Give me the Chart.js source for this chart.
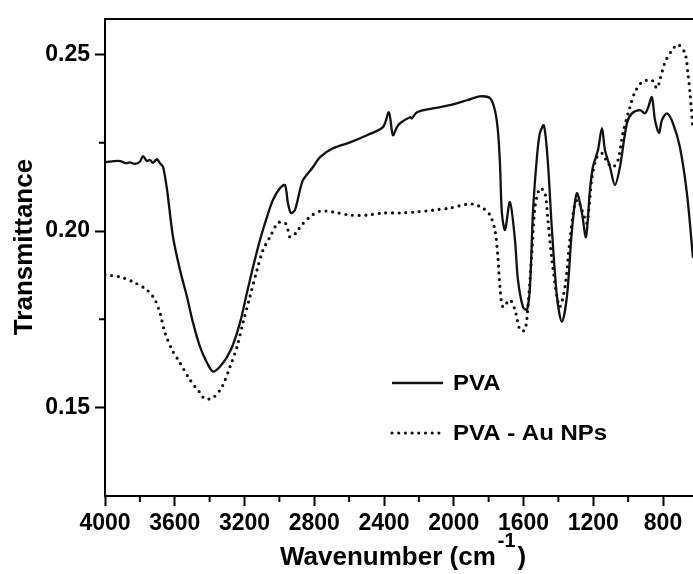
<!DOCTYPE html>
<html>
<head>
<meta charset="utf-8">
<script src="https://cdn.jsdelivr.net/npm/chart.js@4"></script>
<style>
  body { margin: 0; background: #fff; }
  #wrap { width: 693px; height: 574px; }
</style>
</head>
<body>
<div id="wrap"><canvas id="ftir" width="693" height="574"></canvas></div>
<script>
// ============================================
// DATA
// ============================================

const pvaWavenumber = [4000, 3960, 3914, 3880, 3857, 3830, 3800, 3782, 3760, 3742, 3725, 3702, 3685, 3667, 3644,
    3610, 3570, 3530, 3495, 3455, 3415, 3381, 3341, 3300, 3266, 3226, 3186, 3151, 3111, 3071, 3037, 2997, 2968,
    2951, 2934, 2911, 2882, 2865, 2807, 2767, 2693, 2595, 2498, 2406, 2372, 2349, 2326, 2308, 2251, 2240, 2211,
    2119, 2022, 1924, 1850, 1792, 1764, 1747, 1735, 1724, 1706, 1678, 1649, 1632, 1603, 1580, 1563, 1546, 1523,
    1506, 1483, 1460, 1437, 1408, 1380, 1351, 1322, 1294, 1265, 1242, 1219, 1202, 1173, 1150, 1133, 1104, 1076,
    1047, 1007, 978, 932, 904, 887, 864, 846, 823, 806, 777, 743, 703, 663, 628];
const pvaTransmittance = [0.2195, 0.2197, 0.2198, 0.2192, 0.2194, 0.2190, 0.2196, 0.2212, 0.2198, 0.2201, 0.2193,
    0.2203, 0.2192, 0.2181, 0.2116, 0.1983, 0.1890, 0.1814, 0.1740, 0.1672, 0.1627, 0.1602, 0.1616, 0.1644, 0.1678,
    0.1740, 0.1825, 0.1898, 0.1975, 0.2040, 0.2088, 0.2121, 0.2130, 0.2079, 0.2051, 0.2059, 0.2116, 0.2144, 0.2181,
    0.2209, 0.2234, 0.2251, 0.2271, 0.2294, 0.2336, 0.2271, 0.2294, 0.2305, 0.2322, 0.2319, 0.2336, 0.2347, 0.2356,
    0.2370, 0.2381, 0.2376, 0.2342, 0.2285, 0.2192, 0.2051, 0.2003, 0.2082, 0.1975, 0.1862, 0.1785, 0.1777, 0.1842,
    0.2051, 0.2209, 0.2277, 0.2299, 0.2192, 0.2003, 0.1814, 0.1743, 0.1814, 0.2003, 0.2107, 0.2051, 0.1983, 0.2116,
    0.2181, 0.2229, 0.2291, 0.2229, 0.2181, 0.2130, 0.2181, 0.2305, 0.2333, 0.2342, 0.2333, 0.2347, 0.2379, 0.2314,
    0.2277, 0.2314, 0.2333, 0.2305, 0.2237, 0.2107, 0.1924];

const auWavenumber = [4000, 3914, 3839, 3759, 3713, 3685, 3656, 3616, 3570, 3513, 3455, 3427, 3381, 3329, 3283,
    3243, 3209, 3169, 3128, 3094, 3054, 3008, 2968, 2951, 2939, 2899, 2882, 2825, 2767, 2693, 2595, 2498, 2406,
    2308, 2211, 2119, 2022, 1924, 1890, 1833, 1792, 1764, 1747, 1735, 1718, 1678, 1649, 1620, 1592, 1575, 1552,
    1534, 1506, 1477, 1460, 1437, 1408, 1391, 1362, 1334, 1305, 1288, 1259, 1236, 1207, 1179, 1150, 1116, 1087,
    1058, 1030, 990, 961, 921, 864, 835, 818, 789, 749, 714, 674, 657, 645, 628];
const auTransmittance = [0.1876, 0.1870, 0.1856, 0.1833, 0.1805, 0.1768, 0.1712, 0.1664, 0.1627, 0.1579, 0.1542,
    0.1525, 0.1528, 0.1559, 0.1616, 0.1672, 0.1740, 0.1814, 0.1890, 0.1946, 0.1983, 0.2023, 0.2023, 0.2003, 0.1983,
    0.1997, 0.2011, 0.2040, 0.2056, 0.2054, 0.2045, 0.2045, 0.2051, 0.2051, 0.2054, 0.2059, 0.2065, 0.2076, 0.2076,
    0.2065, 0.2045, 0.2003, 0.1927, 0.1842, 0.1785, 0.1805, 0.1777, 0.1720, 0.1720, 0.1785, 0.1938, 0.2068, 0.2121,
    0.2107, 0.2031, 0.1918, 0.1814, 0.1785, 0.1842, 0.1975, 0.2079, 0.2088, 0.2051, 0.2023, 0.2153, 0.2209, 0.2220,
    0.2192, 0.2181, 0.2201, 0.2277, 0.2350, 0.2393, 0.2421, 0.2427, 0.2404, 0.2427, 0.2477, 0.2511, 0.2528, 0.2503,
    0.2446, 0.2390, 0.2285];

const seriesLabels = ['PVA', 'PVA - Au NPs'];

const xMajorTicks = [4000, 3600, 3200, 2800, 2400, 2000, 1600, 1200, 800];
const xMinorTicks = [3800, 3400, 3000, 2600, 2200, 1800, 1400, 1000];
const yMajorTicks = [0.15, 0.20, 0.25];
const yMinorTicks = [0.175, 0.225];

const FONT = "'Liberation Sans', Arial, sans-serif";

function toPoints(xs, ys) {
    return xs.map((x, i) => ({ x: x, y: ys[i] }));
}

// ============================================
// PLUGIN: frame, minor ticks, titles, legend
// ============================================

const decorPlugin = {
    id: 'decor',
    afterDraw(chart) {
        const ctx = chart.ctx;
        const area = chart.chartArea;
        const xs = chart.scales.x;
        const ys = chart.scales.y;

        ctx.save();
        ctx.strokeStyle = '#000';
        ctx.lineWidth = 2;

        // top frame line
        ctx.beginPath();
        ctx.moveTo(area.left, area.top);
        ctx.lineTo(area.right, area.top);
        ctx.stroke();

        // minor ticks
        ctx.beginPath();
        xMinorTicks.forEach(v => {
            const px = xs.getPixelForValue(v);
            ctx.moveTo(px, area.bottom);
            ctx.lineTo(px, area.bottom + 6);
        });
        yMinorTicks.forEach(v => {
            const py = ys.getPixelForValue(v);
            ctx.moveTo(area.left, py);
            ctx.lineTo(area.left - 6, py);
        });
        ctx.stroke();

        // axis titles
        ctx.fillStyle = '#000';
        ctx.font = 'bold 26px ' + FONT;
        ctx.textBaseline = 'alphabetic';

        ctx.save();
        ctx.translate(32, 247);
        ctx.rotate(-Math.PI / 2);
        ctx.textAlign = 'center';
        ctx.fillText('Transmittance', 0, 0);
        ctx.restore();

        const main = 'Wavenumber (cm';
        const sup = '-1';
        const close = ')';
        const tx0 = 280;
        const base = 565;
        ctx.textAlign = 'left';
        ctx.font = 'bold 26px ' + FONT;
        const wMain = ctx.measureText(main).width;
        ctx.fillText(main, tx0, base);
        ctx.font = 'bold 20px ' + FONT;
        const wSup = ctx.measureText(sup).width;
        ctx.fillText(sup, tx0 + wMain + 2, base - 18);
        ctx.font = 'bold 26px ' + FONT;
        ctx.fillText(close, tx0 + wMain + wSup + 4, base);

        // legend inside the plot
        const legendX = 392;
        const legendY = [383, 433];
        chart.data.datasets.forEach((ds, i) => {
            ctx.save();
            ctx.strokeStyle = ds.borderColor;
            ctx.lineWidth = ds.borderWidth;
            ctx.lineCap = ds.borderCapStyle || 'butt';
            ctx.setLineDash(ds.borderDash || []);
            ctx.beginPath();
            ctx.moveTo(legendX, legendY[i]);
            ctx.lineTo(legendX + 51, legendY[i]);
            ctx.stroke();
            ctx.restore();

            ctx.save();
            ctx.translate(legendX + 61, legendY[i] + 1);
            ctx.scale(1.09, 1);
            ctx.font = 'bold 22px ' + FONT;
            ctx.textBaseline = 'middle';
            ctx.textAlign = 'left';
            ctx.fillText(ds.label, 0, 0);
            ctx.restore();
        });

        ctx.restore();
    }
};

// ============================================
// CHART
// ============================================

const ctx = document.getElementById('ftir');

const ftirChart = new Chart(ctx, {
    type: 'line',
    data: {
        datasets: [{
            label: seriesLabels[0],
            data: toPoints(pvaWavenumber, pvaTransmittance),
            borderColor: '#111',
            borderWidth: 2.3,
            pointRadius: 0,
            tension: 0.3,
            fill: false
        }, {
            label: seriesLabels[1],
            data: toPoints(auWavenumber, auTransmittance),
            borderColor: '#111',
            borderWidth: 3.2,
            borderDash: [0, 6.7],
            borderCapStyle: 'round',
            pointRadius: 0,
            tension: 0.3,
            fill: false
        }]
    },
    options: {
        responsive: false,
        animation: false,
        events: [],
        layout: { padding: { top: 19, right: 0, bottom: 0, left: 0 } },
        plugins: {
            legend: { display: false },
            tooltip: { enabled: false }
        },
        scales: {
            x: {
                type: 'linear',
                reverse: true,
                min: 628,
                max: 4000,
                afterBuildTicks: s => { s.ticks = xMajorTicks.map(v => ({ value: v })); },
                afterFit: s => { s.height = 78; },
                grid: { drawOnChartArea: false, tickLength: 10, tickWidth: 2, tickColor: '#000' },
                border: { display: true, width: 2, color: '#000' },
                ticks: {
                    color: '#000',
                    padding: 4,
                    maxRotation: 0,
                    autoSkip: false,
                    font: { family: FONT, size: 23, weight: 'bold' },
                    callback: v => String(v)
                }
            },
            y: {
                type: 'linear',
                min: 0.125,
                max: 0.26,
                afterBuildTicks: s => { s.ticks = yMajorTicks.map(v => ({ value: v })); },
                afterFit: s => { s.width = 105; },
                grid: { drawOnChartArea: false, tickLength: 10, tickWidth: 2, tickColor: '#000' },
                border: { display: true, width: 2, color: '#000' },
                ticks: {
                    color: '#000',
                    padding: 5,
                    font: { family: FONT, size: 23, weight: 'bold' },
                    callback: v => v.toFixed(2)
                }
            }
        }
    },
    plugins: [decorPlugin]
});
</script>
</body>
</html>
